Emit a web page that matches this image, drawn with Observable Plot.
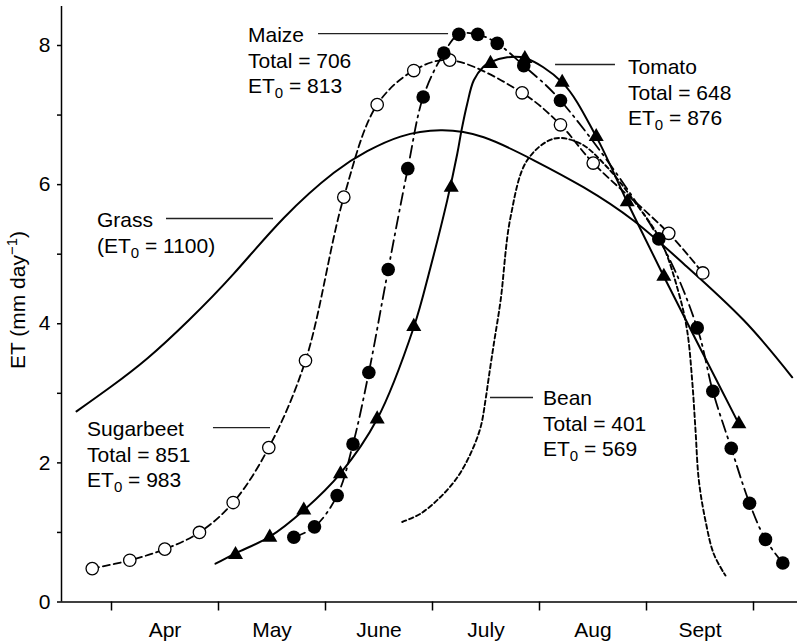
<!DOCTYPE html>
<html><head><meta charset="utf-8">
<script src="https://cdn.jsdelivr.net/npm/d3@7"></script>
<script src="https://cdn.jsdelivr.net/npm/@observablehq/plot@0.6"></script>
<style>body{margin:0;background:#fff;} svg{display:block}</style>
</head><body><div id="chart"></div>
<script>
// Axis categories (x is in "month units": 4 = 1 April, 5 = 1 May, ...)
const monthNames = ["Apr", "May", "June", "July", "Aug", "Sept"];
const monthStarts = [4, 5, 6, 7, 8, 9, 10];
const monthMids = [4.5, 5.5, 6.5, 7.5, 8.5, 9.5];
const yTicks = [0, 1, 2, 3, 4, 5, 6, 7, 8];
const yTickLabels = ["0", "", "2", "", "4", "", "6", "", "8"];

// Grass (solid curve, no markers)
const grassX = [3.673, 3.991, 4.334, 4.722, 5.143, 5.610, 6.078, 6.390, 6.701, 7.075, 7.479, 7.947, 8.414, 8.881, 9.349, 9.909, 10.362];
const grassY = [2.74, 3.09, 3.50, 4.05, 4.72, 5.52, 6.17, 6.48, 6.69, 6.78, 6.68, 6.35, 5.96, 5.48, 4.86, 4.05, 3.23];

// Sugarbeet (open circles, dashed)
const sugarX = [3.820, 4.171, 4.498, 4.822, 5.137, 5.470, 5.813, 6.171, 6.483, 6.825, 7.161, 7.838, 8.196, 8.502, 9.208, 9.526];
const sugarY = [0.48, 0.60, 0.76, 1.00, 1.43, 2.22, 3.47, 5.82, 7.15, 7.64, 7.79, 7.32, 6.86, 6.31, 5.30, 4.73];

// Maize (filled circles, dash-dot)
const maizeX = [5.704, 5.897, 6.109, 6.257, 6.405, 6.586, 6.769, 6.913, 7.106, 7.246, 7.423, 7.605, 7.853, 8.196, 9.115, 9.474, 9.620, 9.792, 9.963, 10.112, 10.274];
const maizeY = [0.93, 1.08, 1.53, 2.27, 3.30, 4.78, 6.23, 7.26, 7.89, 8.16, 8.16, 8.03, 7.71, 7.21, 5.22, 3.94, 3.03, 2.21, 1.42, 0.90, 0.56];

// Tomato (filled triangles, solid fitted curve)
const tomatoPtX = [5.159, 5.479, 5.797, 6.140, 6.483, 6.825, 7.175, 7.542, 7.863, 8.212, 8.530, 8.820, 9.162, 9.863];
const tomatoPtY = [0.68, 0.93, 1.32, 1.84, 2.63, 3.96, 5.96, 7.74, 7.81, 7.47, 6.69, 5.75, 4.68, 2.56];
const tomatoLineX = [4.972, 5.159, 5.479, 5.797, 6.140, 6.483, 6.825, 6.981, 7.137, 7.231, 7.271, 7.324, 7.386, 7.474, 7.542, 7.698, 7.863, 8.212, 8.530, 8.820, 9.162, 9.863];
const tomatoLineY = [0.55, 0.70, 0.94, 1.32, 1.85, 2.63, 3.95, 4.81, 5.77, 6.44, 6.78, 7.16, 7.50, 7.69, 7.76, 7.83, 7.82, 7.47, 6.69, 5.75, 4.68, 2.56];

// Bean (short-dashed curve, no markers)
const beanX = [6.717, 6.888, 7.075, 7.231, 7.355, 7.449, 7.495, 7.526, 7.573, 7.636, 7.729, 7.885, 8.134, 8.383, 8.633, 8.881, 9.131, 9.300, 9.380, 9.427, 9.458, 9.489, 9.551, 9.629, 9.738];
const beanY = [1.15, 1.27, 1.51, 1.79, 2.13, 2.51, 2.90, 3.23, 3.71, 4.33, 5.53, 6.35, 6.66, 6.59, 6.25, 5.77, 5.20, 4.45, 3.90, 3.18, 2.47, 1.75, 1.17, 0.69, 0.38];

// Annotations
const noteLines = [
  ["Maize", "Total = 706", "ET|0| = 813"],
  ["Tomato", "Total = 648", "ET|0| = 876"],
  ["Grass", "(ET|0| = 1100)"],
  ["Sugarbeet", "Total = 851", "ET|0| = 983"],
  ["Bean", "Total = 401", "ET|0| = 569"]
];
const noteX = [5.280, 8.832, 3.869, 3.776, 8.037];
const noteY = [8.043, 7.583, 5.384, 2.379, 2.825];
const leadX1 = [5.935, 8.150, 4.514, 4.953, 7.542];
const leadX2 = [7.150, 8.710, 5.514, 5.486, 7.944];
const leadY = [8.172, 7.727, 5.513, 2.508, 2.940];

const zip = (xs, ys) => xs.map((x, i) => ({x, y: ys[i]}));
const grass = zip(grassX, grassY);
const sugar = zip(sugarX, sugarY);
const maize = zip(maizeX, maizeY);
const tomatoPts = zip(tomatoPtX, tomatoPtY);
const tomatoLine = zip(tomatoLineX, tomatoLineY);
const bean = zip(beanX, beanY);
const leaders = leadY.map((y, i) => ({y, x1: leadX1[i], x2: leadX2[i]}));

const FONT = "'Liberation Sans', Arial, Helvetica, sans-serif";
const xDomain = [3.5327, 10.4112];

const plot = Plot.plot({
  width: 797,
  height: 643,
  marginLeft: 61,
  marginRight: 0,
  marginTop: 6,
  marginBottom: 41.5,
  style: {fontFamily: FONT, fontSize: "21px", background: "white", color: "black"},
  x: {domain: xDomain},
  y: {domain: [0, 8.5606]},
  marks: [
    Plot.axisY({ticks: yTicks, tickSize: 4, tickPadding: 7, strokeWidth: 1.5, fontSize: 21,
      tickFormat: d => yTickLabels[yTicks.indexOf(d)], label: null}),
    Plot.axisX({ticks: monthStarts, tickSize: 9, strokeWidth: 1.5, tickFormat: () => "", label: null}),
    Plot.axisX({ticks: monthMids, tickSize: 0, tickPadding: 19.6, fontSize: 21,
      tickFormat: d => monthNames[monthMids.indexOf(d)], label: null}),
    Plot.ruleY([0], {strokeWidth: 1.5}),
    Plot.ruleX([xDomain[0]], {strokeWidth: 1.5}),
    Plot.ruleY(leaders, {y: "y", x1: "x1", x2: "x2", stroke: "#222", strokeWidth: 1.3}),
    Plot.line(grass, {x: "x", y: "y", curve: "natural", strokeWidth: 2}),
    Plot.line(bean, {x: "x", y: "y", curve: "catmull-rom", strokeWidth: 1.9, strokeDasharray: "4.5,3"}),
    Plot.line(sugar, {x: "x", y: "y", curve: "catmull-rom", strokeWidth: 1.8, strokeDasharray: "7,4"}),
    Plot.line(maize, {x: "x", y: "y", curve: "catmull-rom", strokeWidth: 1.8, strokeDasharray: "12,5,2,5"}),
    Plot.line(tomatoLine, {x: "x", y: "y", curve: "catmull-rom", strokeWidth: 2}),
    Plot.dot(sugar, {x: "x", y: "y", r: 6.2, fill: "white", stroke: "black", strokeWidth: 1.3}),
    Plot.dot(maize, {x: "x", y: "y", r: 6.8, fill: "black", stroke: "none"}),
    Plot.dot(tomatoPts, {x: "x", y: "y", r: 5.6, symbol: "triangle", fill: "black", stroke: "none"})
  ]
});

document.getElementById("chart").appendChild(plot);

// Text annotations with subscripts, positioned through the plot's own scales
const xs = plot.scale("x"), ys = plot.scale("y");
const svg = d3.select(plot);
const g = svg.append("g").attr("font-family", FONT).attr("font-size", 21).attr("text-anchor", "start").attr("fill", "black");
noteLines.forEach((lines, k) => {
  lines.forEach((line, i) => {
    const t = g.append("text")
      .attr("x", xs.apply(noteX[k]))
      .attr("y", ys.apply(noteY[k]) + i * 25.7);
    const parts = line.split("|");
    t.append("tspan").text(parts[0]);
    if (parts.length > 1) {
      t.append("tspan").attr("font-size", 15).attr("dy", 5).text(parts[1]);
      t.append("tspan").attr("dy", -5).text(parts[2]);
    }
  });
});

// Y-axis title with superscript
const yl = svg.append("text")
  .attr("font-family", FONT).attr("font-size", 21).attr("text-anchor", "middle").attr("fill", "black")
  .attr("transform", "translate(25,300) rotate(-90)");
yl.append("tspan").text("ET (mm day");
yl.append("tspan").attr("font-size", 15).attr("dy", -8).text("\u22121");
yl.append("tspan").attr("dy", 8).text(")");
</script>
</body></html>
